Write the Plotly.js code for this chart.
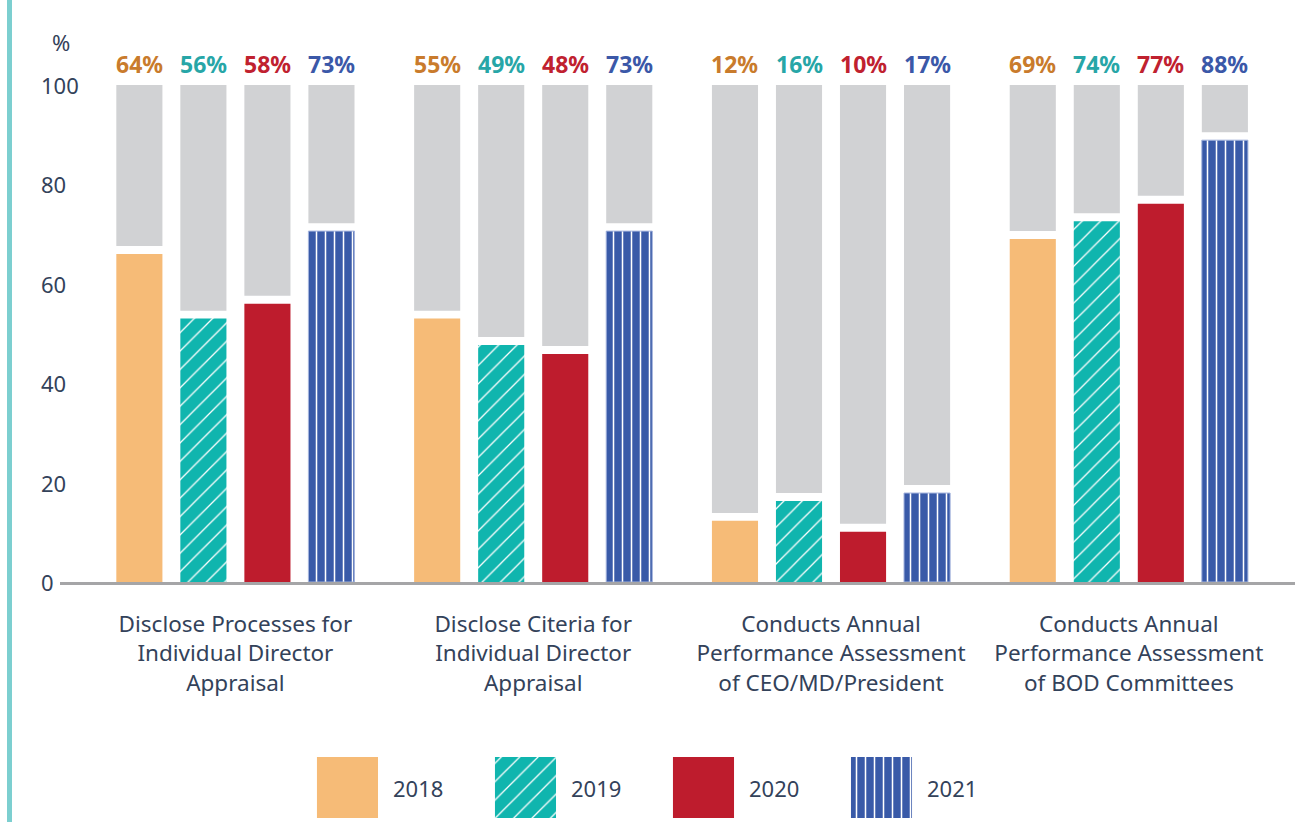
<!DOCTYPE html>
<html>
<head>
<meta charset="utf-8">
<script src="https://cdn.plot.ly/plotly-3.0.1.min.js"></script>
<style>html,body{margin:0;padding:0;background:#fff;}#chart{width:1295px;height:822px;}</style>
</head>
<body>
<div id="chart"></div>
<script>
// ---- data ----
const categories = [
  'Disclose Processes for<br>Individual Director<br>Appraisal',
  'Disclose Citeria for<br>Individual Director<br>Appraisal',
  'Conducts Annual<br>Performance Assessment<br>of CEO/MD/President',
  'Conducts Annual<br>Performance Assessment<br>of BOD Committees'
];
const years = ['2018', '2019', '2020', '2021'];
// bar heights (%)
const bars2018 = [66, 53, 12.3, 69];
const bars2019 = [53, 47.7, 16.3, 72.6];
const bars2020 = [56, 45.9, 10.1, 76.1];
const bars2021 = [70.6, 70.6, 17.9, 88.9];
// printed labels (%)
const labels2018 = [64, 55, 12, 69];
const labels2019 = [56, 49, 16, 74];
const labels2020 = [58, 48, 10, 77];
const labels2021 = [73, 73, 17, 88];
const yTicks = [0, 20, 40, 60, 80, 100];
const yMax = 100;

// ---- styles ----
const FONT = 'Noto Sans';
const TEXT_COLOR = '#33425a';
const GRAY = '#d1d2d4';
const GAP = 1.6;
const BARGAP = 0.14, BARGROUPGAP = 0.28;
const styles = [
  {color: '#f6bb77', label: '#c97b2c', shape: '', size: 8, solidity: 0.2, line: null},
  {color: '#10b5ae', label: '#27a6a7', shape: '/', size: 13, solidity: 0.1, line: null},
  {color: '#be1c2d', label: '#c0212f', shape: '', size: 8, solidity: 0.2, line: null},
  {color: '#395aa8', label: '#3b58a8', shape: '|', size: 9, solidity: 0.17, line: '#a3b3dd'}
];
const barSeries = [bars2018, bars2019, bars2020, bars2021];
const labelSeries = [labels2018, labels2019, labels2020, labels2021];

const W = 1295, H = 822, ML = 60, MR = 0, MT = 85, MB = 0;
const plotW = W - ML - MR, plotH = H - MT - MB;

function patternMarker(st) {
  return {
    color: st.color,
    pattern: {shape: st.shape, bgcolor: st.color, fgcolor: '#ffffff', size: st.size, solidity: st.solidity},
    line: {width: st.line ? 1 : 0, color: st.line || st.color}
  };
}

const traces = [];
years.forEach((yr, i) => {
  const st = styles[i];
  const vals = barSeries[i];
  traces.push({
    type: 'bar', name: yr, x: categories, y: vals, offsetgroup: yr,
    marker: patternMarker(st), showlegend: false, hoverinfo: 'y+name'
  });
  traces.push({
    type: 'bar', name: yr + ' rest', x: categories,
    base: vals.map(v => v + GAP), y: vals.map(v => yMax - v - GAP), offsetgroup: yr,
    marker: {color: GRAY, line: {width: 0}},
    showlegend: false, hoverinfo: 'skip'
  });
});

// legend drawn as large swatches on a hidden axis
years.forEach((yr, i) => {
  const st = Object.assign({}, styles[i], {line: null});
  traces.push({
    type: 'bar', x: [i], y: [1], base: 0, name: yr,
    xaxis: 'x2', yaxis: 'y2', width: 0.343, offsetgroup: 'legend',
    marker: patternMarker(st), showlegend: false, hoverinfo: 'skip'
  });
});

const annotations = [];
// value labels above each bar
const slot = (1 - BARGAP) / years.length;
years.forEach((yr, j) => {
  labelSeries[j].forEach((lab, ci) => annotations.push({
    xref: 'x', yref: 'y', x: ci + (j - (years.length - 1) / 2) * slot, y: yMax, yshift: 21,
    xanchor: 'center', yanchor: 'middle', text: '<b>' + lab + '%</b>', showarrow: false,
    font: {family: FONT, size: 23, color: styles[j].label}
  }));
});
yTicks.forEach(t => annotations.push({
  xref: 'paper', yref: 'y', x: -21 / plotW, y: t, xanchor: 'left', yanchor: 'middle',
  text: String(t), showarrow: false, font: {family: FONT, size: 22, color: TEXT_COLOR}
}));
annotations.push({
  xref: 'paper', yref: 'paper', x: 1 / plotW, y: 1 + (MT - 42) / plotH, xanchor: 'center', yanchor: 'middle',
  text: '%', showarrow: false, font: {family: FONT, size: 22, color: TEXT_COLOR}
});
years.forEach((yr, i) => annotations.push({
  xref: 'x2', yref: 'y2', x: i, y: 0.5, xshift: 44, xanchor: 'left', yanchor: 'middle',
  text: yr, showarrow: false, font: {family: FONT, size: 22, color: TEXT_COLOR}
}));

const layout = {
  width: W, height: H,
  margin: {l: ML, r: MR, t: MT, b: MB, pad: 0},
  paper_bgcolor: '#ffffff', plot_bgcolor: '#ffffff',
  showlegend: false,
  barmode: 'group', bargap: BARGAP, bargroupgap: BARGROUPGAP,
  font: {family: FONT, color: TEXT_COLOR},
  xaxis: {
    type: 'category', range: [-0.589, 3.558], domain: [0, 1], anchor: 'y',
    showline: true, linecolor: '#a5a5a7', linewidth: 3, ticks: '', showgrid: false, zeroline: false,
    tickfont: {family: FONT, size: 22.5, color: TEXT_COLOR}, ticklabelstandoff: 20, fixedrange: true
  },
  yaxis: {
    range: [0, yMax], domain: [(H - 582) / plotH, 1], anchor: 'x',
    tickvals: yTicks, showticklabels: false, showgrid: false, zeroline: false, showline: false, ticks: '', fixedrange: true
  },
  xaxis2: {range: [-1.615, 5.323], anchor: 'y2', visible: false, fixedrange: true},
  yaxis2: {range: [0, 1], domain: [(H - 818) / plotH, (H - 757) / plotH], anchor: 'x2', visible: false, fixedrange: true},
  annotations: annotations,
  shapes: [{
    type: 'line', xref: 'paper', yref: 'paper',
    x0: (9.5 - ML) / plotW, x1: (9.5 - ML) / plotW, y0: -0.05, y1: 1 + MT / plotH + 0.05,
    line: {color: '#7ccfd0', width: 5}
  }]
};

Plotly.newPlot('chart', traces, layout, {displayModeBar: false, staticPlot: true});
</script>
</body>
</html>
